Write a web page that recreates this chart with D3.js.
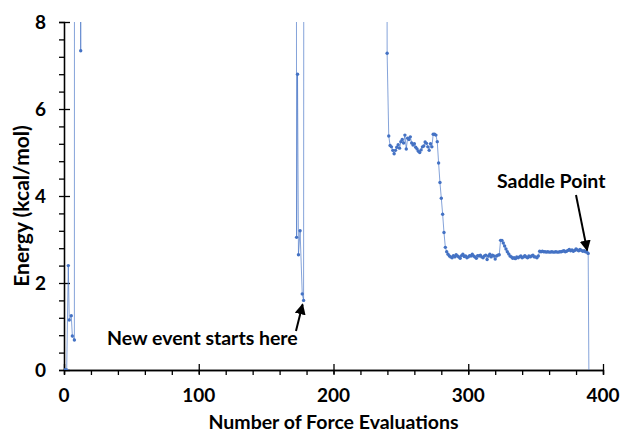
<!DOCTYPE html>
<html>
<head>
<meta charset="utf-8">
<script src="https://cdn.jsdelivr.net/npm/d3@7"></script>
<style>
  html, body { margin: 0; padding: 0; background: #fff; }
  svg { display: block; }
  text { font-family: Lato, "Open Sans", sans-serif; font-weight: 700; fill: #000; }
</style>
</head>
<body>
<svg id="chart" width="622" height="433"></svg>
<script>
// Energy along the search path, one entry per force evaluation.
// Values above 8 kcal/mol leave the plotted window at the top.
const evals = [
  0, 1, 2, 3.2, 3.9, 5.4, 6.2, 7.7, 8, 11, 12.4, 13,
  172, 172.6, 173.3, 174, 175.2, 176.8, 177.8, 178.5,
  239, 239.8,
  241, 242, 243, 244, 245, 246, 247, 248, 249, 250,
  251, 252, 253, 254, 255, 256, 257, 258, 259, 260,
  261, 262, 263, 264, 265, 266, 267, 268, 269, 270,
  271, 272, 273, 274, 275, 276, 277, 278, 279, 280,
  281, 282, 283, 284, 285, 286, 287, 288, 289, 290,
  291, 292, 293, 294, 295, 296, 297, 298, 299, 300,
  301, 302, 303, 304, 305, 306, 307, 308, 309, 310,
  311, 312, 313, 314, 315, 316, 317, 318, 319, 320,
  321, 322, 323, 324, 325, 326, 327, 328, 329, 330,
  331, 332, 333, 334, 335, 336, 337, 338, 339, 340,
  341, 342, 343, 344, 345, 346, 347, 348, 349, 350,
  351, 352, 353, 354, 355, 356, 357, 358, 359, 360,
  361, 362, 363, 364, 365, 366, 367, 368, 369, 370,
  371, 372, 373, 374, 375, 376, 377, 378, 379, 380,
  381, 382, 383, 384, 385, 386, 387, 388, 389, 389.9
];
const energy = [
  0, 0, 0, 2.4, 1.15, 1.25, 0.78, 0.69, 40, 40, 7.34, 40,
  40, 3.05, 6.8, 2.65, 3.2, 1.75, 1.6, 40,
  40, 7.28,
  5.38, 5.16, 5.13, 5.05, 4.97, 5.05, 5.12, 5.18, 5.10, 5.25,
  5.30, 5.22, 5.40, 5.08, 5.33, 5.30, 5.36, 5.22, 5.17, 5.20,
  5.12, 5.08, 5.03, 5.00, 5.06, 5.13, 5.15, 5.24, 5.21, 5.13,
  5.05, 5.20, 5.13, 5.42, 5.42, 5.40, 5.25, 4.76, 4.31, 3.95,
  3.58, 3.16, 2.82, 2.72, 2.66, 2.62, 2.60, 2.58, 2.63, 2.60,
  2.65, 2.62, 2.60, 2.57, 2.63, 2.66, 2.61, 2.62, 2.58, 2.60,
  2.63, 2.62, 2.66, 2.62, 2.60, 2.57, 2.63, 2.62, 2.64, 2.60,
  2.58, 2.62, 2.64, 2.54, 2.62, 2.66, 2.60, 2.64, 2.62, 2.55,
  2.62, 2.64, 2.65, 2.98, 2.98, 2.92, 2.85, 2.78, 2.72, 2.67,
  2.62, 2.60, 2.57, 2.58, 2.56, 2.60, 2.58, 2.60, 2.62, 2.58,
  2.60, 2.63, 2.60, 2.58, 2.62, 2.60, 2.62, 2.64, 2.60, 2.60,
  2.58, 2.62, 2.73, 2.72, 2.73, 2.72, 2.72, 2.71, 2.72, 2.71,
  2.71, 2.72, 2.71, 2.71, 2.72, 2.71, 2.71, 2.72, 2.72, 2.73,
  2.74, 2.72, 2.73, 2.75, 2.77, 2.74, 2.76, 2.73, 2.75, 2.78,
  2.76, 2.74, 2.77, 2.75, 2.73, 2.74, 2.72, 2.71, 2.68, -2
];

const xTicks = [0, 100, 200, 300, 400];
const yTicks = [0, 2, 4, 6, 8];

const series = evals.map((x, i) => ({ x, y: energy[i] }));

const svg = d3.select("#chart");
const margin = { top: 22, right: 19, bottom: 63, left: 64 };
const W = 622, H = 433;

const x = d3.scaleLinear().domain([0, 400]).range([margin.left, W - margin.right]);
const y = d3.scaleLinear().domain([0, 8]).range([H - margin.bottom, margin.top]);

const defs = svg.append("defs");
defs.append("clipPath").attr("id", "plot-clip")
  .append("rect")
  .attr("x", margin.left).attr("y", margin.top)
  .attr("width", W - margin.left - margin.right)
  .attr("height", H - margin.top - margin.bottom);

// Minor ticks (outside only), then major ticks that cross the axis line
const yMinor = d3.range(0, 8.0001, 0.4);
const xMinor = d3.range(0, 400.0001, 20);

const gy = svg.append("g").attr("transform", `translate(${margin.left},0)`);
gy.call(d3.axisLeft(y).tickValues(yMinor).tickSize(5).tickFormat(""));
gy.append("g").call(d3.axisLeft(y).tickValues(yTicks).tickSizeInner(5).tickSizeOuter(0).tickFormat(""))
  .selectAll(".tick line").attr("x2", 6);
gy.selectAll("path.domain").attr("stroke", "#000").attr("stroke-width", 1.3);
gy.selectAll(".tick line").attr("stroke", "#000").attr("stroke-width", 1.3);

const gx = svg.append("g").attr("transform", `translate(0,${H - margin.bottom})`);
gx.call(d3.axisBottom(x).tickValues(xMinor).tickSize(5).tickFormat(""));
gx.append("g").call(d3.axisBottom(x).tickValues(xTicks).tickSizeInner(4).tickSizeOuter(0).tickFormat(""))
  .selectAll(".tick line").attr("y1", -6);
gx.selectAll("path.domain").attr("stroke", "#000").attr("stroke-width", 1.3);
gx.selectAll(".tick line").attr("stroke", "#000").attr("stroke-width", 1.3);

// Tick labels
svg.append("g").selectAll("text").data(yTicks).join("text")
  .attr("x", margin.left - 18).attr("y", d => y(d)).attr("dy", "0.36em")
  .attr("text-anchor", "end").attr("font-size", 19).text(d => d);
svg.append("g").selectAll("text").data(xTicks).join("text")
  .attr("x", d => x(d)).attr("y", H - margin.bottom + 32)
  .attr("text-anchor", "middle").attr("font-size", 19).text(d => d);

// Axis titles
svg.append("text").attr("x", (margin.left + W - margin.right) / 2).attr("y", 429)
  .attr("text-anchor", "middle").attr("font-size", 19.5).text("Number of Force Evaluations");
svg.append("text").attr("transform", "translate(29,206) rotate(-90)")
  .attr("text-anchor", "middle").attr("font-size", 21).text("Energy (kcal/mol)");

// Data line and markers
const plot = svg.append("g").attr("clip-path", "url(#plot-clip)");
plot.append("path").datum(series)
  .attr("fill", "none").attr("stroke", "#4472C4").attr("stroke-opacity", 0.65).attr("stroke-width", 1)
  .attr("d", d3.line().x(d => x(d.x)).y(d => y(d.y)));
plot.append("g").selectAll("circle").data(series).join("circle")
  .attr("cx", d => x(d.x)).attr("cy", d => y(d.y)).attr("r", 1.7)
  .attr("fill", "#4472C4");

// Annotations
defs.append("marker").attr("id", "head").attr("viewBox", "0 0 10 10")
  .attr("refX", 9).attr("refY", 5).attr("markerWidth", 5.5).attr("markerHeight", 5.5)
  .attr("orient", "auto")
  .append("path").attr("d", "M0,0 L10,5 L0,10 Z").attr("fill", "#000");

svg.append("text").attr("x", 107).attr("y", 345).attr("font-size", 19.5).text("New event starts here");
svg.append("line")
  .attr("x1", 296).attr("y1", 331).attr("x2", x(177.8) - 1).attr("y2", y(1.6) + 4)
  .attr("stroke", "#000").attr("stroke-width", 2).attr("marker-end", "url(#head)");

svg.append("text").attr("x", 497).attr("y", 188).attr("font-size", 19.5).text("Saddle Point");
svg.append("line")
  .attr("x1", 576).attr("y1", 195).attr("x2", x(389) - 1).attr("y2", y(2.68) - 3)
  .attr("stroke", "#000").attr("stroke-width", 2).attr("marker-end", "url(#head)");
</script>
</body>
</html>
